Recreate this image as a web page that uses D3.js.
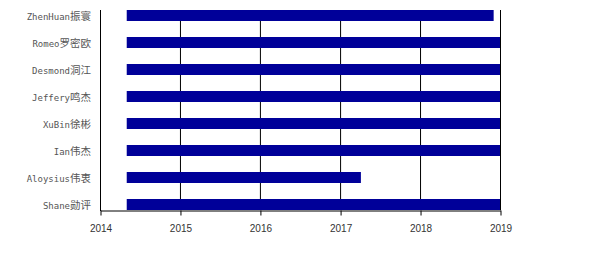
<!DOCTYPE html>
<html>
<head>
<meta charset="utf-8">
<script src="https://cdn.jsdelivr.net/npm/d3@7"></script>
<style>
  body { margin: 0; background: #fff; }
  .tick text { font-family: "Liberation Sans", Arial, sans-serif; font-size: 10px; fill: #333; }
  .ylab { font-family: "DejaVu Sans Mono", monospace; fill: #555; }
</style>
</head>
<body>
<svg id="chart" width="600" height="275"></svg>
<script>
// names (latin part + chinese part)
const names = ['ZhenHuan', 'Romeo', 'Desmond', 'Jeffery', 'XuBin', 'Ian', 'Aloysius', 'Shane']
const cnNames = ['振寰', '罗密欧', '洞江', '鸣杰', '徐彬', '伟杰', '伟衷', '勋评']
const starts = ['2014-05-03', '2014-05-03', '2014-05-03', '2014-05-03', '2014-05-03', '2014-05-03', '2014-05-03', '2014-05-03']
const ends = ['2018-12-03', '2019-01-01', '2019-01-01', '2019-01-01', '2019-01-01', '2019-01-01', '2017-04-06', '2019-01-01']
const tickYears = [2014, 2015, 2016, 2017, 2018, 2019]

const parse = d3.timeParse('%Y-%m-%d')
const rows = names.map((n, i) => ({ name: n, cn: cnNames[i], start: parse(starts[i]), end: parse(ends[i]) }))

const svg = d3.select('#chart')

const x = d3.scaleTime()
  .domain([new Date(2014, 0, 1), new Date(2019, 0, 1)])
  .range([100, 500])

const y = d3.scaleBand()
  .domain(names)
  .range([10, 210])
  .paddingInner(16 / 27)
  .paddingOuter(0)

// vertical grid lines
svg.append('g')
  .selectAll('line')
  .data(tickYears.slice(1))
  .enter()
  .append('line')
  .attr('x1', d => x(new Date(d, 0, 1)) + 0.5)
  .attr('x2', d => x(new Date(d, 0, 1)) + 0.5)
  .attr('y1', 10)
  .attr('y2', 210)
  .attr('stroke', '#000')

// bars
svg.append('g')
  .selectAll('rect')
  .data(rows)
  .enter()
  .append('rect')
  .attr('x', d => x(d.start))
  .attr('y', d => y(d.name))
  .attr('width', d => x(d.end) - x(d.start))
  .attr('height', y.bandwidth())
  .attr('fill', '#000099')

// bottom axis
const xAxis = svg.append('g')
  .attr('transform', 'translate(0.5,210.5)')
  .call(d3.axisBottom(x)
    .tickValues(tickYears.map(yr => new Date(yr, 0, 1)))
    .tickFormat(d3.timeFormat('%Y'))
    .tickSize(5)
    .tickSizeOuter(0))
xAxis.select('.domain').attr('stroke', '#000')
xAxis.selectAll('.tick line').attr('stroke', '#000')
xAxis.selectAll('.tick text').attr('dy', '1.3em')

// left axis line
svg.append('line')
  .attr('x1', 100.5).attr('x2', 100.5)
  .attr('y1', 10).attr('y2', 211)
  .attr('stroke', '#000')

// y labels
const labels = svg.append('g')
  .selectAll('text')
  .data(rows)
  .enter()
  .append('text')
  .attr('class', 'ylab')
  .attr('x', 91)
  .attr('y', d => y(d.name) + y.bandwidth() / 2 + 4)
  .attr('text-anchor', 'end')

labels.append('tspan')
  .attr('font-size', '9px')
  .text(d => d.name)
labels.append('tspan')
  .attr('font-size', '10.5px')
  .attr('font-family', '"Noto Sans CJK SC", sans-serif')
  .text(d => d.cn)
</script>
</body>
</html>
